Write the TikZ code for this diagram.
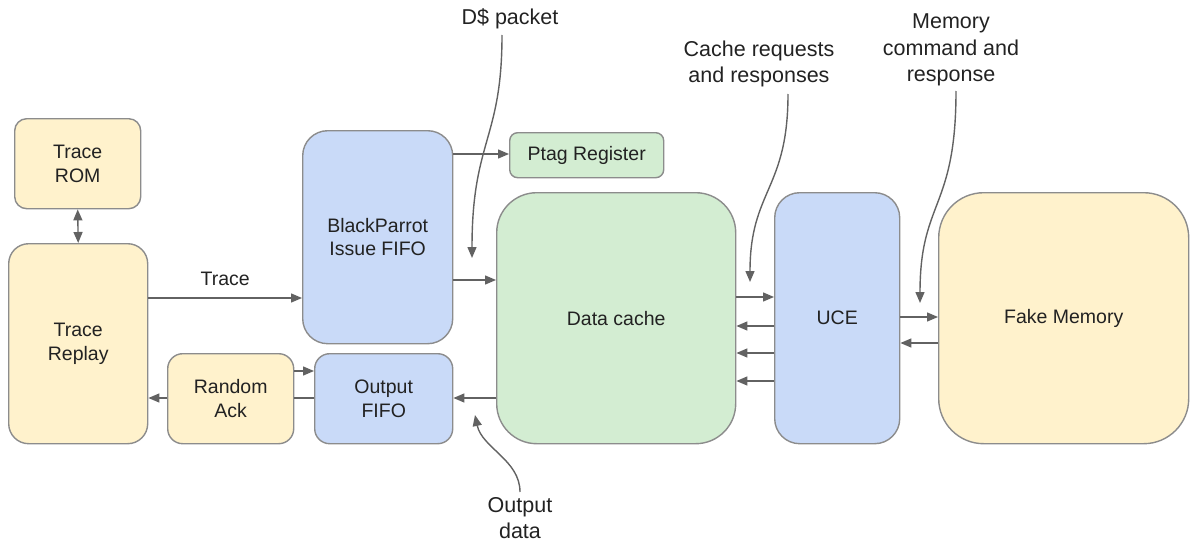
\documentclass[tikz,border=0pt]{standalone}
\usepackage{fontspec}
\setmainfont{Liberation Sans}
\usetikzlibrary{arrows.meta}
\definecolor{ylw}{HTML}{FFF2CC}
\definecolor{blu}{HTML}{C9DAF8}
\definecolor{grn}{HTML}{D3EDD2}
\definecolor{edgegray}{HTML}{8C8C8C}
\definecolor{wire}{HTML}{626262}
\definecolor{ink}{HTML}{222222}
\begin{document}
\begin{tikzpicture}[x=1pt,y=-1pt,
  box/.style={draw=edgegray, line width=1.4pt, align=center, text=ink,
    font=\fontsize{19.5}{23.5}\selectfont, inner sep=0pt, anchor=north west},
  wirelbl/.style={text=ink, font=\fontsize{19.5}{23.5}\selectfont, inner sep=0pt},
  lbl/.style={align=center, text=ink, font=\fontsize{21.5}{26.5}\selectfont, inner sep=0pt},
  link/.style={draw=wire, line width=1.4pt},
  arr/.style={link, -{Triangle[length=11pt,width=9pt]}},
  dbl/.style={link, {Triangle[length=11pt,width=9pt]}-{Triangle[length=11pt,width=9pt]}}
]
\useasboundingbox (0,0) rectangle (1190,543);

% blocks
\node[box, fill=ylw, rounded corners=12pt, minimum width=126pt, minimum height=90pt] (rom) at (14,118) {Trace\\ROM};
\node[box, fill=ylw, rounded corners=20pt, minimum width=139pt, minimum height=200pt] (rep) at (8,243) {Trace\\Replay};
\node[box, fill=blu, rounded corners=25pt, minimum width=150pt, minimum height=213pt] (bp) at (302,130) {BlackParrot\\Issue FIFO};
\node[box, fill=ylw, rounded corners=15pt, minimum width=126pt, minimum height=90pt] (ack) at (167,353) {Random\\Ack};
\node[box, fill=blu, rounded corners=15pt, minimum width=138pt, minimum height=90pt] (ofifo) at (314,353) {Output\\FIFO};
\node[box, fill=grn, rounded corners=8pt, minimum width=154pt, minimum height=45pt] (ptag) at (509,132) {Ptag Register};
\node[box, fill=grn, rounded corners=40pt, minimum width=239pt, minimum height=251pt] (dc) at (496,192) {Data cache};
\node[box, fill=blu, rounded corners=25pt, minimum width=125pt, minimum height=251pt] (uce) at (774,192) {UCE};
\node[box, fill=ylw, rounded corners=45pt, minimum width=250pt, minimum height=251pt] (mem) at (938,192) {Fake Memory};

% connectors between blocks
\draw[dbl] (rom.south) -- (rep.north);
\draw[arr] (rep.east |- 0,298) -- node[wirelbl, above=12pt] (trl) {Trace} (bp.west |- 0,298);
\draw[arr] (bp.east |- 0,154) -- (ptag.west |- 0,154);
\draw[arr] (bp.east |- 0,280) -- (dc.west |- 0,280);
\draw[arr] (ack.east |- 0,371) -- (ofifo.west |- 0,371);
\draw[link] (ofifo.west |- 0,398) -- (ack.east |- 0,398);
\draw[arr] (ack.west |- 0,398) -- (rep.east |- 0,398);
\draw[arr] (dc.west |- 0,398) -- (ofifo.east |- 0,398);
\draw[arr] (dc.east |- 0,297) -- (uce.west |- 0,297);
\draw[arr] (uce.west |- 0,326) -- (dc.east |- 0,326);
\draw[arr] (uce.west |- 0,353) -- (dc.east |- 0,353);
\draw[arr] (uce.west |- 0,381) -- (dc.east |- 0,381);
\draw[arr] (uce.east |- 0,317) -- (mem.west |- 0,317);
\draw[arr] (mem.west |- 0,343) -- (uce.east |- 0,343);

% annotations
\node[lbl] (dsp) at (510,19) {D\$ packet};
\node[lbl] (creq) at (759,64) {Cache requests\\and responses};
\node[lbl] (mcmd) at (951,50) {Memory\\command and\\response};
\node[lbl] (odat) at (520,518) {Output\\data};

\coordinate (dspA) at (502,35);
\coordinate (dspB) at (472,258);
\coordinate (creqA) at (788,94);
\coordinate (creqB) at (750,282);
\coordinate (mcmdA) at (956,91);
\coordinate (mcmdB) at (920,303);
\coordinate (odatA) at (520,492);
\coordinate (odatB) at (475,415);

\draw[arr] (dspA) .. controls (502,140) and (472,140) .. (dspB);
\draw[arr] (creqA) .. controls (788,190) and (750,190) .. (creqB);
\draw[arr] (mcmdA) .. controls (956,210) and (920,200) .. (mcmdB);
\draw[arr] (odatA) .. controls (520,460) and (482,448) .. (odatB);
\end{tikzpicture}
\end{document}
